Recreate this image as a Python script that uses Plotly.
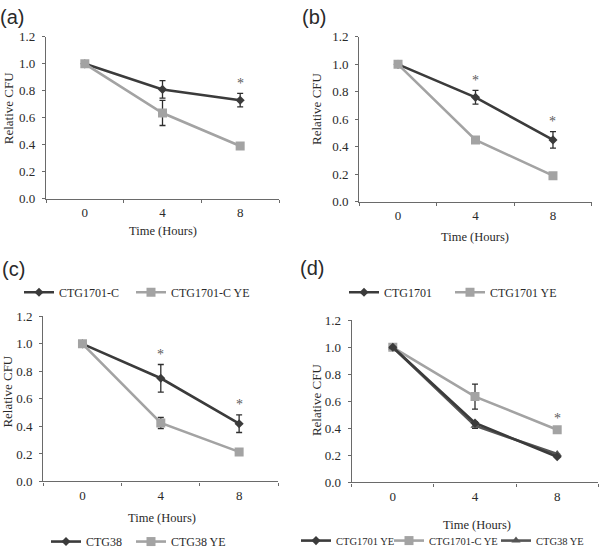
import plotly.graph_objects as go

# ---------------- data ----------------
time_labels = ["0", "4", "8"]

# panel (a)
a_ctg1701c = [1.0, 0.81, 0.73]
a_ctg1701c_err = [0, 0.065, 0.05]
a_ctg1701c_ye = [1.0, 0.635, 0.39]
a_ctg1701c_ye_err = [0, 0.093, 0]
a_sig = [False, False, True]

# panel (b)
b_ctg1701 = [1.0, 0.76, 0.45]
b_ctg1701_err = [0, 0.05, 0.06]
b_ctg1701_ye = [1.0, 0.45, 0.19]
b_ctg1701_ye_err = [0, 0, 0]
b_sig = [False, True, True]

# panel (c)
c_ctg38 = [1.0, 0.75, 0.42]
c_ctg38_err = [0, 0.1, 0.064]
c_ctg38_ye = [1.0, 0.425, 0.215]
c_ctg38_ye_err = [0, 0.04, 0]
c_sig = [False, True, True]

# panel (d)
d_ctg1701_ye = [1.0, 0.44, 0.19]
d_ctg1701_ye_err = [0, 0.01, 0]
d_ctg1701c_ye = [1.0, 0.635, 0.39]
d_ctg1701c_ye_err = [0, 0.093, 0.01]
d_ctg38_ye = [1.0, 0.42, 0.21]
d_ctg38_ye_err = [0, 0.02, 0]
d_sig = [False, False, True]

# ---------------- style ----------------
W, H = 600, 570          # page viewport is 556 tall; extra rows are hidden
DARK = "#3b3b3b"
DARK2 = "#555555"
GRAY = "#a3a3a3"
ERR = "#2e2e2e"
SERIF = "Liberation Serif"
SANS = "Liberation Sans"
TXT = "#2a2a2a"


def px_x(p):
    return p / W


def px_y(p):
    return 1 - p / H


fig = go.Figure()


def add_series(ax, name, y, err, color, symbol, size, legend):
    fig.add_trace(go.Scatter(
        x=time_labels, y=y, name=name, mode="lines+markers",
        xaxis="x" + ax, yaxis="y" + ax,
        line=dict(color=color, width=2.6),
        marker=dict(color=color, symbol=symbol, size=size, line=dict(width=0)),
        error_y=dict(type="data", array=err, visible=True, color=ERR,
                     thickness=1.3, width=3),
        legend=legend, showlegend=True,
    ))


def add_stars(ax, y, err, sig):
    for i, (yi, ei, s) in enumerate(zip(y, err, sig)):
        if s:
            fig.add_annotation(x=i, y=yi + ei, xref="x" + ax, yref="y" + ax,
                               text="*", showarrow=False, yshift=10,
                               font=dict(family=SERIF, size=14, color="#5a5a5a"))


add_series("", "CTG1701-C", a_ctg1701c, a_ctg1701c_err, DARK, "diamond", 7, "legend")
add_series("", "CTG1701-C YE", a_ctg1701c_ye, a_ctg1701c_ye_err, GRAY, "square", 9, "legend2")
add_stars("", a_ctg1701c, a_ctg1701c_err, a_sig)

add_series("2", "CTG1701", b_ctg1701, b_ctg1701_err, DARK, "diamond", 7, "legend3")
add_series("2", "CTG1701 YE", b_ctg1701_ye, b_ctg1701_ye_err, GRAY, "square", 9, "legend4")
add_stars("2", b_ctg1701, b_ctg1701_err, b_sig)

add_series("3", "CTG38", c_ctg38, c_ctg38_err, DARK, "diamond", 7, "legend5")
add_series("3", "CTG38 YE", c_ctg38_ye, c_ctg38_ye_err, GRAY, "square", 9, "legend6")
add_stars("3", c_ctg38, c_ctg38_err, c_sig)

add_series("4", "CTG1701-C YE", d_ctg1701c_ye, d_ctg1701c_ye_err, GRAY, "square", 9, "legend8")
add_series("4", "CTG38 YE", d_ctg38_ye, d_ctg38_ye_err, DARK2, "triangle-up", 8, "legend9")
add_series("4", "CTG1701 YE", d_ctg1701_ye, d_ctg1701_ye_err, DARK, "diamond", 7, "legend7")
add_stars("4", d_ctg1701c_ye, d_ctg1701c_ye_err, d_sig)

# ---------------- axes ----------------
panels = {
    "": dict(x=(46, 279), y=(30.7, 196.7)),
    "2": dict(x=(359.3, 591.7), y=(30.7, 200)),
    "3": dict(x=(43.3, 278.3), y=(317.7, 487.3)),
    "4": dict(x=(351.7, 598.3), y=(321.7, 488.3)),
}
layout = {}
for k, p in panels.items():
    layout["xaxis" + k] = dict(
        domain=[px_x(p["x"][0]), px_x(p["x"][1])], anchor="y" + k,
        type="category", categoryorder="array", categoryarray=time_labels,
        range=[-0.5, 2.5], tickson="boundaries", ticks="outside", ticklen=3,
        tickcolor="#6a6a6a", showline=True, linecolor="#6a6a6a", linewidth=1.2,
        showgrid=False, zeroline=False, fixedrange=True,
        tickfont=dict(family=SERIF, size=13, color=TXT), ticklabelstandoff=2,
    )
    layout["yaxis" + k] = dict(
        domain=[px_y(p["y"][1]), px_y(p["y"][0])], anchor="x" + k,
        range=[0, 1.2], dtick=0.2, tick0=0, tickformat=".1f",
        ticks="outside", ticklen=3, tickcolor="#6a6a6a",
        showline=True, linecolor="#6a6a6a", linewidth=1.2,
        showgrid=False, zeroline=False, fixedrange=True,
        tickfont=dict(family=SERIF, size=13, color=TXT), ticklabelstandoff=4,
    )

# ---------------- text ----------------
def ann(text, x, y, size, family=SERIF, angle=0):
    fig.add_annotation(text=text, x=px_x(x), y=px_y(y), xref="paper", yref="paper",
                       showarrow=False, xanchor="center", yanchor="middle",
                       textangle=angle, font=dict(family=family, size=size, color=TXT))


ann("(a)", 12, 10, 20, SANS)
ann("(b)", 314, 10, 20, SANS)
ann("(c)", 13, 269, 20, SANS)
ann("(d)", 312, 268, 20, SANS)

ann("Relative CFU", 8, 104, 13, angle=-90)
ann("Relative CFU", 316.7, 105, 13, angle=-90)
ann("Relative CFU", 8, 395, 13, angle=-90)
ann("Relative CFU", 316.7, 404, 13, angle=-90)

ann("Time (Hours)", 163, 230, 12.5)
ann("Time (Hours)", 475, 236, 12.5)
ann("Time (Hours)", 162, 525, 12.5)
ann("Time (Hours)", 477, 532, 12.5)

# ---------------- legends (one item each, placed by text start) ----------------
def leg(tx, ty, size=12):
    return dict(x=px_x(tx - 42), y=px_y(ty), xanchor="left", yanchor="middle",
                orientation="h", bgcolor="rgba(0,0,0,0)", borderwidth=0,
                font=dict(family=SERIF, size=size, color=TXT), itemclick=False)


layout["legend"] = leg(61, 293)
layout["legend2"] = leg(173, 293)
layout["legend3"] = leg(386, 293)
layout["legend4"] = leg(492, 293)
layout["legend5"] = leg(88, 549)
layout["legend6"] = leg(173, 549)
layout["legend7"] = leg(338, 548, 10.5)
layout["legend8"] = leg(431, 548, 10.5)
layout["legend9"] = leg(538, 548, 10.5)

fig.update_layout(
    width=W, height=H, margin=dict(l=0, r=0, t=0, b=0),
    paper_bgcolor="white", plot_bgcolor="white", showlegend=True,
    **layout,
)

fig.write_html(
    "out.html",
    config={"displayModeBar": False},
    post_script="document.body.style.margin='0px';document.body.style.overflow='hidden';",
)
